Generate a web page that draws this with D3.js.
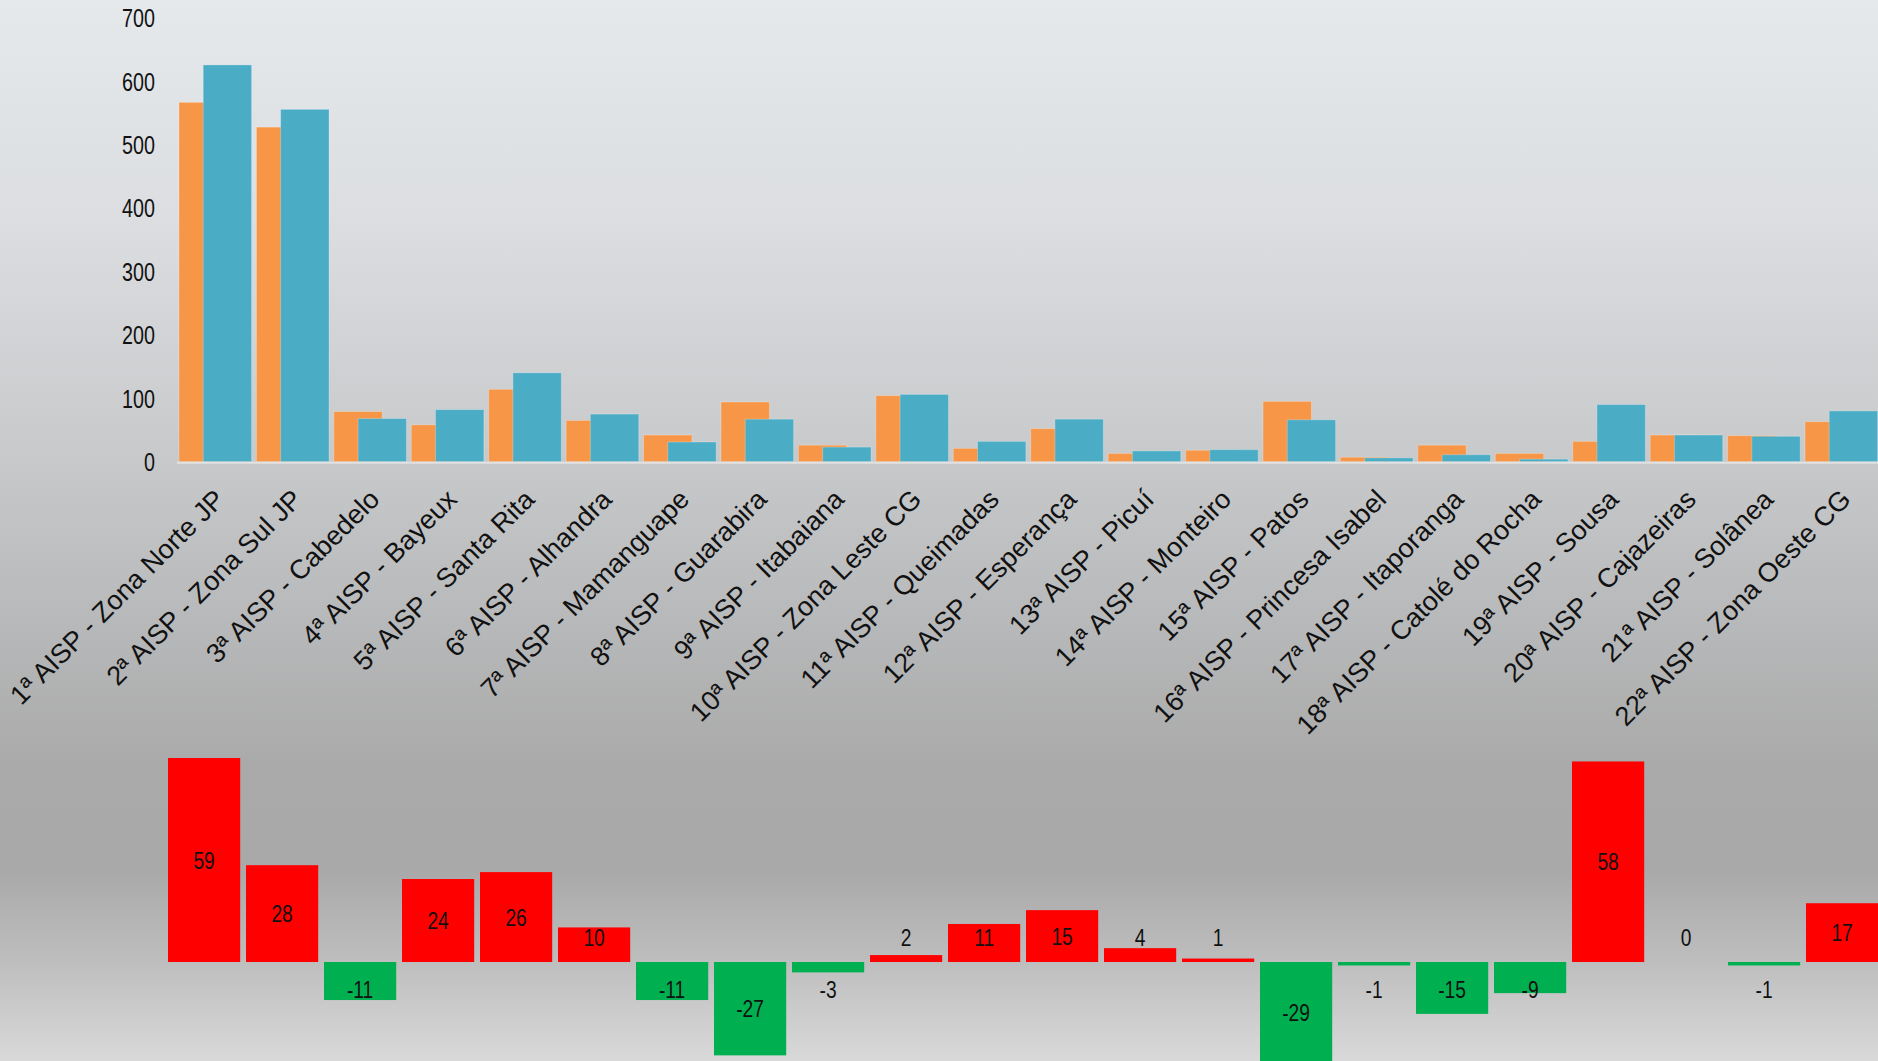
<!DOCTYPE html>
<html>
<head>
<meta charset="utf-8">
<script src="https://cdn.jsdelivr.net/npm/d3@7"></script>
<style>
html,body{margin:0;padding:0;overflow:hidden;}
svg{display:block;}
</style>
</head>
<body>
<svg id="chart" width="1878" height="1061"></svg>
<script>
const categories = [
  "1ª AISP - Zona Norte JP", "2ª AISP - Zona Sul JP", "3ª AISP - Cabedelo", "4ª AISP - Bayeux",
  "5ª AISP - Santa Rita", "6ª AISP - Alhandra", "7ª AISP - Mamanguape", "8ª AISP - Guarabira",
  "9ª AISP - Itabaiana", "10ª AISP - Zona Leste CG", "11ª AISP - Queimadas", "12ª AISP - Esperança",
  "13ª AISP - Picuí", "14ª AISP - Monteiro", "15ª AISP - Patos", "16ª AISP - Princesa Isabel",
  "17ª AISP - Itaporanga", "18ª AISP - Catolé do Rocha", "19ª AISP - Sousa", "20ª AISP - Cajazeiras",
  "21ª AISP - Solânea", "22ª AISP - Zona Oeste CG"
];
const seriesA = [566, 527, 79, 58, 114, 65, 42, 94, 26, 104, 21, 52, 13, 18, 95, 7, 26, 13, 32, 42, 41, 63];
const seriesB = [625, 555, 68, 82, 140, 75, 31, 67, 23, 106, 32, 67, 17, 19, 66, 6, 11, 4, 90, 42, 40, 80];
const differences = [59, 28, -11, 24, 26, 10, -11, -27, -3, 2, 11, 15, 4, 1, -29, -1, -15, -9, 58, 0, -1, 17];
const yTicks = [0, 100, 200, 300, 400, 500, 600, 700];

const colorA = "#F79646", colorB = "#4BACC6", colorUp = "#FF0000", colorDown = "#00B050";
const regular = "'Liberation Sans',Arial,sans-serif";

const svg = d3.select("#chart");
const W = 1878, H = 1061;

// squeeze text horizontally (condensed look)
function condense(sel, k) {
  sel.each(function() {
    const len = this.getComputedTextLength();
    if (len > 0) d3.select(this).attr("textLength", len * k).attr("lengthAdjust", "spacingAndGlyphs");
  });
}

// background gradient
const defs = svg.append("defs");
const grad = defs.append("linearGradient").attr("id","bg").attr("x1",0).attr("y1",0).attr("x2",0).attr("y2",1);
[[0,"#e5e9ec"],[0.2,"#dcdee1"],[0.42,"#c9cacc"],[0.6,"#b6b7b8"],[0.72,"#aaaaaa"],[0.82,"#a9a9a9"],[0.9,"#bcbcbc"],[1,"#d9d9d9"]]
  .forEach(([o,c]) => grad.append("stop").attr("offset",o).attr("stop-color",c));
svg.append("rect").attr("width",W).attr("height",H).attr("fill","url(#bg)");

// ---------- top chart ----------
const step = 77.43, inner = 0.0625;
const x = d3.scaleBand().domain(categories)
  .range([179 - step*inner, 179 - step*inner + step*(categories.length + inner)])
  .paddingInner(inner).paddingOuter(inner);
const y = d3.scaleLinear().domain([0,700]).range([461.7,17.3]);
const bw = x.bandwidth();
const barW = bw*2/3;

const gTop = svg.append("g");
gTop.selectAll("rect.a").data(categories).join("rect").attr("class","a")
  .attr("x", d => x(d)).attr("width", barW)
  .attr("y", (d,i) => y(seriesA[i])).attr("height", (d,i) => y(0) - y(seriesA[i]))
  .attr("fill", colorA).attr("stroke","rgba(255,255,255,0.25)").attr("stroke-width",1);
gTop.selectAll("rect.b").data(categories).join("rect").attr("class","b")
  .attr("x", d => x(d) + bw/3).attr("width", barW)
  .attr("y", (d,i) => y(seriesB[i])).attr("height", (d,i) => y(0) - y(seriesB[i]))
  .attr("fill", colorB).attr("stroke","rgba(255,255,255,0.25)").attr("stroke-width",1);

// baseline
svg.append("g").attr("transform",`translate(0,${y(0)+1})`)
  .call(d3.axisBottom(x).tickSize(0).tickFormat(""))
  .call(g => g.select(".domain").attr("stroke","#e2e2e2").attr("stroke-width",2).attr("d",`M177,0H${W}`));

// y axis
svg.append("g").attr("transform","translate(155,0)")
  .call(d3.axisLeft(y).tickValues(yTicks).tickSize(0).tickPadding(0))
  .call(g => g.select(".domain").remove())
  .call(g => g.selectAll("text").attr("font-family",regular).attr("font-size",25.6).attr("fill","#111").attr("dy","0.36em").call(condense, 0.77));

// category labels
svg.append("g").selectAll("text").data(categories).join("text")
  .attr("transform", d => `translate(${x(d) + bw/2 + 11},501) rotate(-45)`)
  .attr("text-anchor","end")
  .attr("font-family",regular).attr("font-size",27).attr("fill","#111")
  .text(d => d);

// ---------- bottom chart ----------
const step2 = 78, inner2 = 0.0744;
const x2 = d3.scaleBand().domain(categories)
  .range([168 - step2*inner2, 168 - step2*inner2 + step2*(categories.length + inner2)])
  .paddingInner(inner2).paddingOuter(inner2);
const y2 = d3.scaleLinear().domain([0,59]).range([962,758]);

const gBot = svg.append("g");
gBot.selectAll("rect").data(categories).join("rect")
  .attr("x", d => x2(d)).attr("width", x2.bandwidth())
  .attr("y", (d,i) => Math.min(y2(0), y2(differences[i])))
  .attr("height", (d,i) => Math.abs(y2(differences[i]) - y2(0)))
  .attr("fill", (d,i) => differences[i] >= 0 ? colorUp : colorDown);

gBot.selectAll("text").data(categories).join("text")
  .attr("x", d => x2(d) + x2.bandwidth()/2)
  .attr("y", (d,i) => {
    const v = differences[i];
    const c = (y2(0) + y2(v))/2;
    return v >= 0 ? Math.min(c, y2(0) - 25) : Math.max(c, y2(0) + 27);
  })
  .attr("dy","0.36em").attr("text-anchor","middle")
  .attr("font-family",regular).attr("font-size",24).attr("fill","#111")
  .text((d,i) => differences[i])
  .call(condense, 0.8);
</script>
</body>
</html>
